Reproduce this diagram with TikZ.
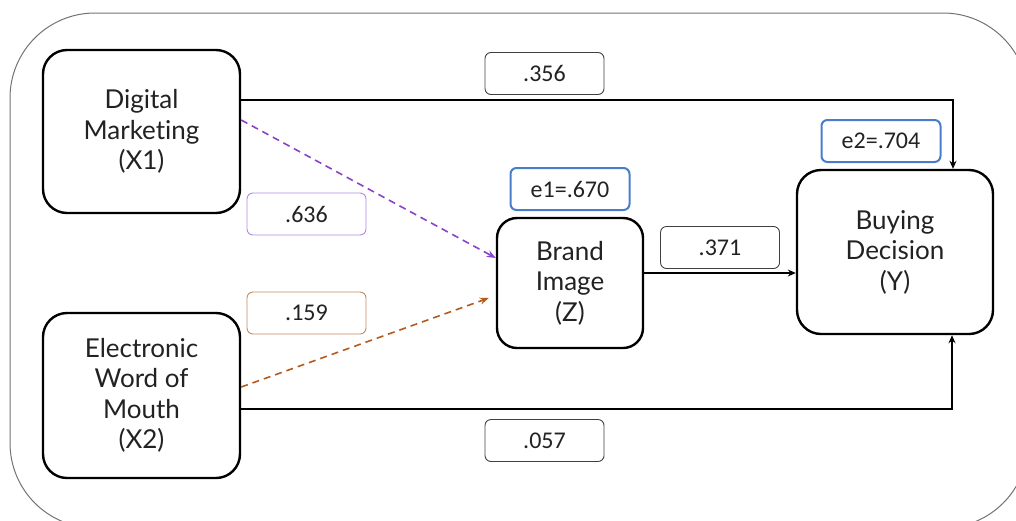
\documentclass[tikz,border=0pt]{standalone}
\usepackage{fontspec}
\setmainfont{Lato}[Ligatures={NoCommon,NoRequired}]
\newfontfamily\numfont{Carlito}
\usetikzlibrary{arrows.meta,calc}
\definecolor{txt}{HTML}{222222}
\definecolor{purp}{HTML}{8A42C8}
\definecolor{purplite}{HTML}{B489E0}
\definecolor{brwn}{HTML}{B45A1E}
\definecolor{brwnlite}{HTML}{C48A62}
\definecolor{bluebd}{HTML}{4A7DC9}
\tikzset{
  var/.style={draw=black, line width=2.4pt, rounded corners=24pt, align=center,
    text=txt, font=\fontsize{26}{30.5}\selectfont, inner sep=0pt},
  coef/.style={draw=black!75, line width=0.9pt, rounded corners=6pt,
    minimum width=119pt, minimum height=42pt, inner sep=0pt,
    text=txt, font=\numfont\fontsize{24}{28}\selectfont},
  errbox/.style={coef, draw=bluebd, line width=2pt},
  arr/.style={line width=1.4pt, -{Stealth[length=8pt,width=7pt]}},
  dsh/.style={line width=1.6pt, dash pattern=on 7pt off 5pt,
    -{Stealth[length=9pt,width=7pt]}}
}
\begin{document}
\begin{tikzpicture}[x=1pt,y=-1pt]
\useasboundingbox (0,0) rectangle (1016,520);
\clip (0,0) rectangle (1016,520);
% outer frame
\draw[black!55, line width=1pt, rounded corners=85pt] (10,13) rectangle (1028,528);

% variables
\node[var, minimum width=197pt, minimum height=163pt] (x1) at (141.5,131.5) {Digital\\Marketing\\(X1)};
\node[var, minimum width=197pt, minimum height=165pt] (x2) at (141.5,395.5) {Electronic\\Word of\\Mouth\\(X2)};
\node[var, rounded corners=20pt, minimum width=146pt, minimum height=130pt] (z) at (570,283) {Brand\\Image\\(Z)};
\node[var, minimum width=196pt, minimum height=164pt] (y) at (895,252) {Buying\\Decision\\(Y)};

% path coefficients
\node[coef] (k356) at (544.5,73.5) {.356};
\node[coef, draw=purplite] (k636) at (306.5,214) {.636};
\node[coef, draw=brwnlite] (k159) at (306.5,313) {.159};
\node[coef] (k371) at (720,247.5) {.371};
\node[coef] (k057) at (544.5,440.5) {.057};
\node[errbox] (e1) at (570,189) {e1=.670};
\node[errbox] (e2) at (881,141) {e2=.704};

% direct paths to Y
\coordinate (ctop) at (953,100);
\coordinate (cbot) at (952,409);
\draw[arr] (x1.east |- ctop) -- (ctop) -- (y.north -| ctop);
\draw[arr] (x2.east |- cbot) -- (cbot) -- (y.south -| cbot);

% paths through Z
\coordinate (zy) at ($(z.east)+(0,-10)$);
\draw[arr] (zy) -- (zy -| y.west);
\draw[dsh, purp] ($(x1.east)+(0,-11.5)$) -- ($(z.west)+(0,-25)$);
\draw[dsh, brwn] ($(x2.east)+(0,-8.5)$) -- ($(z.west)+(-7,15)$);
\end{tikzpicture}
\end{document}
